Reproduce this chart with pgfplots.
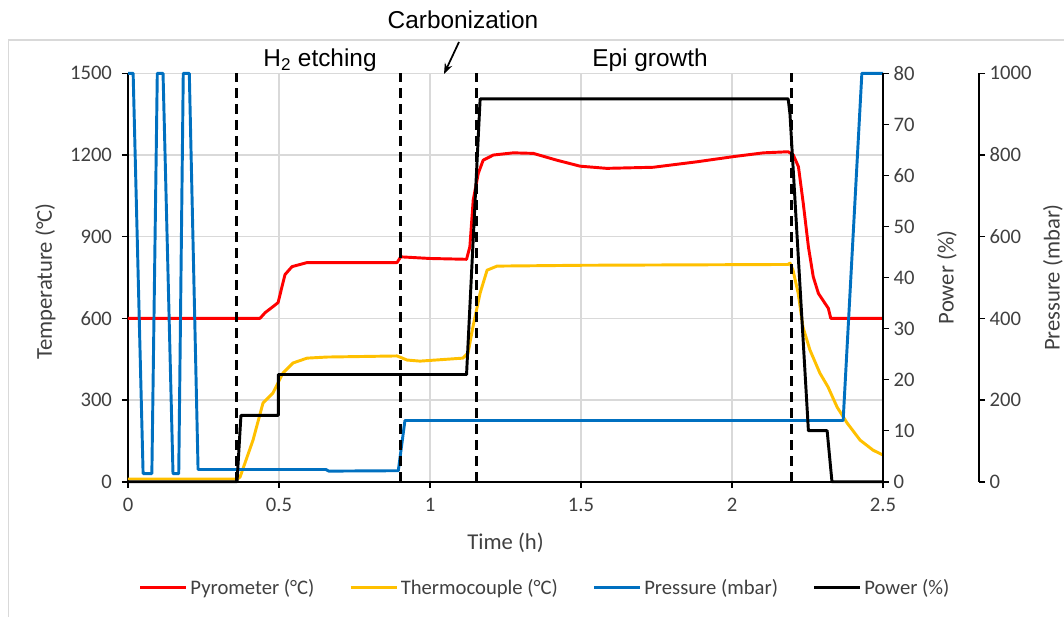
\documentclass[border=0pt]{standalone}
\usepackage{fontspec}
\setmainfont{Carlito}
\newfontfamily\arialfont{Liberation Sans}
\usepackage{pgfplots}
\pgfplotsset{compat=1.18}
\usetikzlibrary{arrows.meta}

\definecolor{pyro}{HTML}{FF0000}
\definecolor{thermo}{HTML}{FFC000}
\definecolor{press}{HTML}{0070C0}
\definecolor{gridgray}{HTML}{D9D9D9}
\definecolor{txt}{HTML}{404040}

\newcommand\ticksize{\fontsize{15.5}{18}\selectfont}
\newcommand\labelsize{\fontsize{17}{20}\selectfont}
\newcommand\annsize{\arialfont\fontsize{18.3}{22}\selectfont}

\pgfplotsset{
  base/.style={
    at={(96pt,-361.3pt)}, anchor=south west,
    scale only axis, width=566.25pt, height=306.3pt,
    xmin=0, xmax=2.5, clip=false,
    tick align=outside, major tick length=4.5pt,
    axis line style={line width=1.5pt, black},
    tick style={line width=1.2pt, black},
    ticklabel style={font=\ticksize, text=txt},
    /pgf/number format/assume math mode=true,
    /pgf/number format/set thousands separator={},
  },
  series/.style={line width=2.2pt, line join=round},
}

\begin{document}
\begin{tikzpicture}
\useasboundingbox (0,0) rectangle (798pt,-462.75pt);
\draw[gridgray, line width=1pt] (6.4pt,-30pt) rectangle (820pt,-480pt);

% temperature axis
\begin{axis}[base,
  ymin=0, ymax=1500,
  axis x line*=bottom, axis y line*=left,
  xtick={0,0.5,1,1.5,2,2.5}, ytick={0,300,...,1500},
  xticklabel style={yshift=-4pt}, yticklabel style={xshift=-4pt},
  grid=major, grid style={gridgray, line width=0.9pt},
  xlabel={Time (h)}, ylabel={Temperature (°C)},
  every axis x label/.style={at={(axis description cs:0.5,0)}, yshift=-46pt,
    anchor=center, font=\labelsize, text=txt},
  every axis y label/.style={at={(axis description cs:0,0.5)}, xshift=-62pt,
    yshift=-3pt, rotate=90, anchor=center, font=\labelsize, text=txt},
]
\addplot[series, pyro] coordinates {
  (0,600) (0.437,600) (0.454,621) (0.480,643) (0.497,658) (0.510,717)
  (0.520,761) (0.543,790) (0.593,805) (0.891,805) (0.903,826) (1.000,820)
  (1.121,817) (1.132,863) (1.143,1034) (1.160,1133) (1.176,1181) (1.210,1200)
  (1.276,1208) (1.342,1206) (1.420,1181) (1.497,1159) (1.585,1151) (1.739,1155)
  (1.883,1175) (2.004,1194) (2.104,1208) (2.186,1212) (2.203,1200) (2.220,1157)
  (2.236,1022) (2.253,863) (2.269,753) (2.286,692) (2.308,655) (2.319,637)
  (2.327,600) (2.5,600)
};
\addplot[series, thermo] coordinates {
  (0,10) (0.361,10) (0.371,17) (0.414,153) (0.447,289) (0.480,326)
  (0.513,399) (0.546,436) (0.593,454) (0.659,458) (0.891,462) (0.924,447)
  (0.967,443) (1.109,454) (1.126,473) (1.142,568) (1.166,693) (1.189,777)
  (1.222,792) (1.5,795) (2.185,798) (2.192,803) (2.202,777) (2.219,693)
  (2.235,568) (2.258,484) (2.291,399) (2.318,348) (2.348,274) (2.381,216)
  (2.424,153) (2.467,116) (2.5,98)
};
\end{axis}

% pressure axis
\begin{axis}[base,
  ymin=0, ymax=1000, ytick={0,200,...,1000},
  axis x line=none, axis y line*=right,
  y axis line style={xshift=72pt},
  ytick style={xshift=72pt},
  yticklabel style={xshift=72pt},
  ylabel={Pressure (mbar)},
  every axis y label/.style={at={(axis description cs:1,0.5)}, xshift=127.5pt,
    rotate=90, anchor=center, font=\labelsize, text=txt},
]
\addplot[series, press] coordinates {
  (0,1000) (0.017,1000) (0.050,20) (0.079,20) (0.097,1000) (0.116,1000)
  (0.149,20) (0.168,20) (0.183,1000) (0.203,1000) (0.232,30) (0.655,30)
  (0.665,26) (0.895,27) (0.917,150) (2.368,150) (2.430,1000) (2.5,1000)
};
\end{axis}

% power axis
\begin{axis}[base,
  ymin=0, ymax=80, ytick={0,10,...,80},
  axis x line=none, axis y line*=right,
  ylabel={Power (\%)},
  every axis y label/.style={at={(axis description cs:1,0.5)}, xshift=48pt,
    rotate=90, anchor=center, font=\labelsize, text=txt},
  legend columns=4,
  legend cell align=left,
  legend image code/.code={\draw[#1] (0pt,0pt) -- (34.5pt,0pt);},
  legend style={at={(0.553,-0.26)}, anchor=center, draw=none, fill=none,
    font=\ticksize, text=txt,
    /tikz/every even column/.append style={column sep=24pt}},
]
\addlegendimage{series, pyro}
\addlegendentry{Pyrometer (°C)}
\addlegendimage{series, thermo}
\addlegendentry{Thermocouple (°C)}
\addlegendimage{series, press}
\addlegendentry{Pressure (mbar)}
\addplot[series, black] coordinates {
  (0,0) (0.361,0) (0.374,13) (0.498,13) (0.498,21) (1.121,21) (1.166,75)
  (2.186,75) (2.192,72) (2.253,10) (2.315,10) (2.331,0) (2.5,0)
};
\addlegendentry{Power (\%)}
\addplot[forget plot, black, line width=2pt, dash pattern=on 7.5pt off 4.5pt]
  coordinates {(0.360,0) (0.360,80)};
\addplot[forget plot, black, line width=2pt, dash pattern=on 7.5pt off 4.5pt]
  coordinates {(0.903,0) (0.903,80)};
\addplot[forget plot, black, line width=2pt, dash pattern=on 7.5pt off 4.5pt]
  coordinates {(1.155,0) (1.155,80)};
\addplot[forget plot, black, line width=2pt, dash pattern=on 7.5pt off 4.5pt]
  coordinates {(2.198,0) (2.198,80)};
\end{axis}

\node[font=\annsize] at (347.25pt,-15pt) {Carbonization};
\node[font=\annsize] at (240pt,-45pt) {H\textsubscript{2} etching};
\node[font=\annsize] at (487.5pt,-45pt) {Epi growth};
\draw[line width=1.3pt, -{Stealth[length=8pt,width=6pt]}] (344.25pt,-31.5pt) -- (333pt,-55.5pt);
\end{tikzpicture}
\end{document}
